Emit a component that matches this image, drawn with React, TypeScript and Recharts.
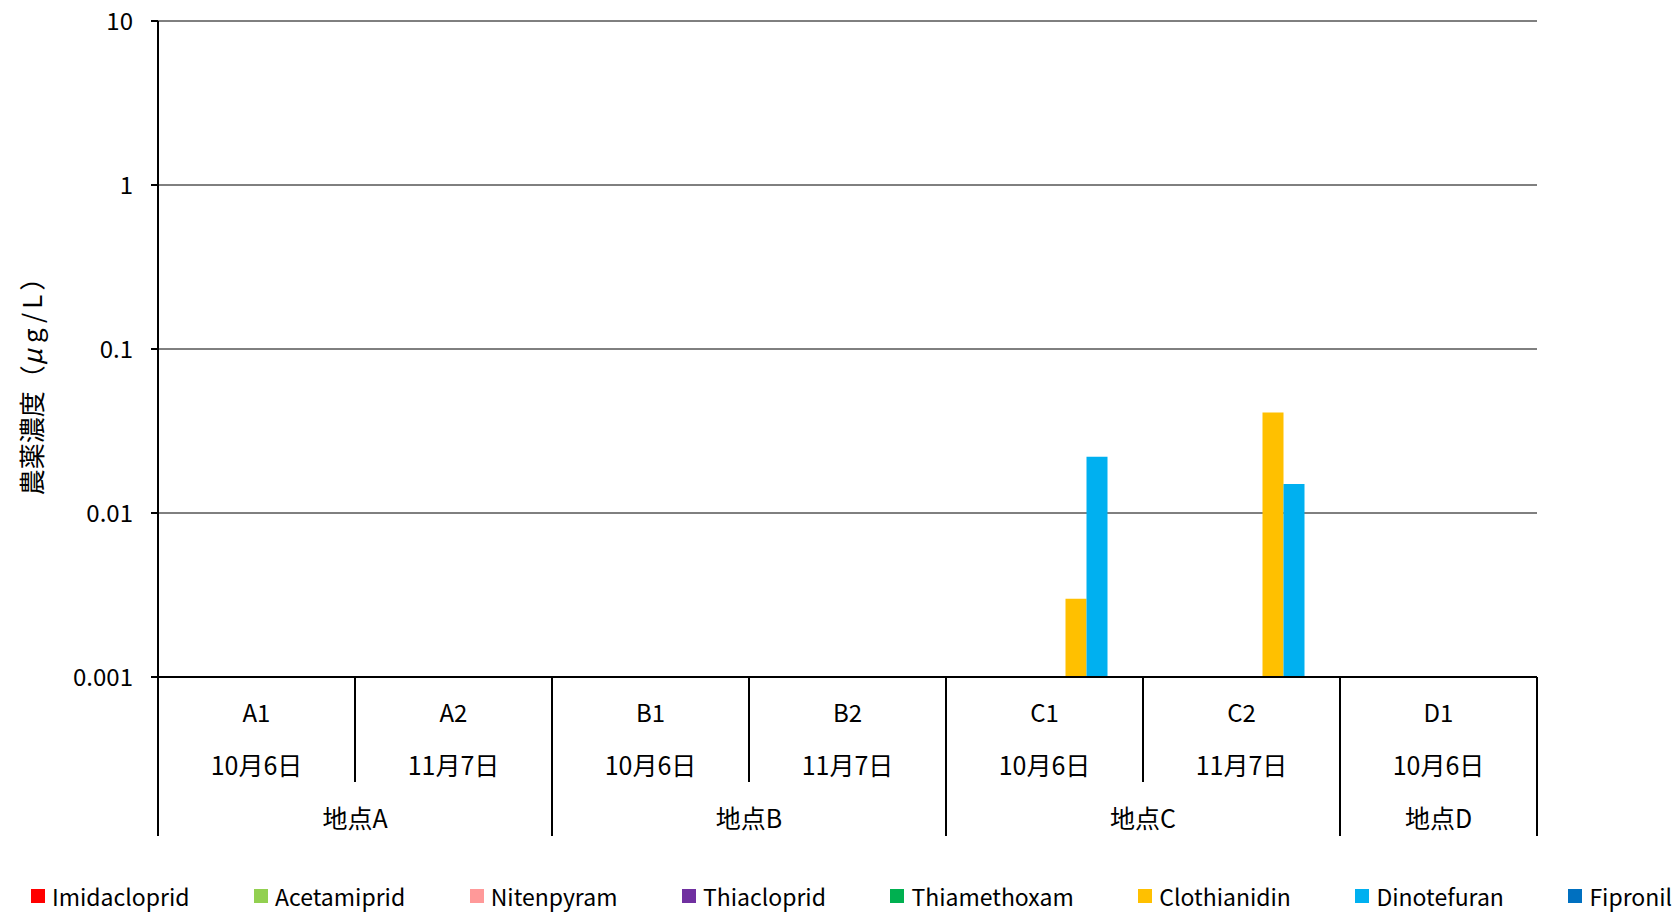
import React from 'react';
import { BarChart, Bar, XAxis, YAxis, CartesianGrid, Legend } from 'recharts';

// Sampling points
const samples = ['A1', 'A2', 'B1', 'B2', 'C1', 'C2', 'D1'];
const dates = ['10月6日', '11月7日', '10月6日', '11月7日', '10月6日', '11月7日', '10月6日'];
const sites = ['地点A', '地点A', '地点B', '地点B', '地点C', '地点C', '地点D'];

// Pesticide concentrations (µg/L); null = not detected
const imidacloprid = [null, null, null, null, null, null, null];
const acetamiprid = [null, null, null, null, null, null, null];
const nitenpyram = [null, null, null, null, null, null, null];
const thiacloprid = [null, null, null, null, null, null, null];
const thiamethoxam = [null, null, null, null, null, null, null];
const clothianidin = [null, null, null, null, 0.003, 0.041, null];
const dinotefuran = [null, null, null, null, 0.022, 0.015, null];
const fipronil = [null, null, null, null, null, null, null];

const yTicks = [0.001, 0.01, 0.1, 1, 10];

const series = [
  { key: 'Imidacloprid', values: imidacloprid, color: '#FF0000' },
  { key: 'Acetamiprid', values: acetamiprid, color: '#92D050' },
  { key: 'Nitenpyram', values: nitenpyram, color: '#FF9999' },
  { key: 'Thiacloprid', values: thiacloprid, color: '#7030A0' },
  { key: 'Thiamethoxam', values: thiamethoxam, color: '#00B050' },
  { key: 'Clothianidin', values: clothianidin, color: '#FFC000' },
  { key: 'Dinotefuran', values: dinotefuran, color: '#00B0F0' },
  { key: 'Fipronil', values: fipronil, color: '#0070C0' },
];

const data = samples.map((s, i) => {
  const row: Record<string, any> = { idx: i, sample: s };
  series.forEach((sr) => {
    row[sr.key] = sr.values[i];
  });
  return row;
});

const FONT = "'Noto Sans CJK JP', 'Noto Sans', sans-serif";
const W = 1677;
const H = 912;
const MARGIN = { top: 21, right: 140, bottom: 75, left: 0 };
const Y_AXIS_W = 158;
const PLOT_W = W - MARGIN.left - MARGIN.right - Y_AXIS_W;
const BAND = PLOT_W / samples.length;

const CategoryTick = (props: any) => {
  const { x, y, index } = props;
  const half = BAND / 2;
  const isGroupEnd = index === samples.length - 1 || sites[index + 1] !== sites[index];
  const isGroupStart = index === 0 || sites[index - 1] !== sites[index];
  let groupCount = 0;
  if (isGroupStart) {
    for (let j = index; j < samples.length && sites[j] === sites[index]; j++) groupCount++;
  }
  return (
    <g>
      <text x={x} y={y + 34} textAnchor="middle" dominantBaseline="central" fontSize={24} fill="#000" fontFamily={FONT}>
        {samples[index]}
      </text>
      <text x={x} y={y + 87} textAnchor="middle" dominantBaseline="central" fontSize={25} fill="#000" fontFamily={FONT}>
        {dates[index]}
      </text>
      {index === 0 && <line x1={x - half} x2={x - half} y1={y} y2={y + 159} stroke="#000" strokeWidth={2} />}
      <line x1={x + half} x2={x + half} y1={y} y2={y + (isGroupEnd ? 159 : 105)} stroke="#000" strokeWidth={2} />
      {isGroupStart && (
        <text
          x={x - half + (groupCount * BAND) / 2}
          y={y + 140}
          textAnchor="middle"
          dominantBaseline="central"
          fontSize={25}
          fill="#000"
          fontFamily={FONT}
        >
          {sites[index]}
        </text>
      )}
    </g>
  );
};

const LegendContent = () => (
  <div
    style={{
      display: 'flex',
      alignItems: 'center',
      whiteSpace: 'nowrap',
      fontFamily: FONT,
      fontSize: 23,
      lineHeight: '24px',
      color: '#000',
    }}
  >
    {series.map((s) => (
      <div key={s.key} style={{ display: 'flex', alignItems: 'center', marginRight: 64.5 }}>
        <span style={{ display: 'inline-block', width: 14, height: 14, background: s.color, marginRight: 7 }} />
        <span>{s.key}</span>
      </div>
    ))}
  </div>
);

const YLabel = (props: any) => {
  const { viewBox } = props;
  const cx = 30;
  const cy = viewBox.y + viewBox.height / 2 + 31;
  return (
    <text
      x={cx}
      y={cy}
      transform={`rotate(-90, ${cx}, ${cy})`}
      textAnchor="middle"
      dominantBaseline="central"
      fontSize={26}
      fill="#000"
      fontFamily={FONT}
    >
      農薬濃度（
      <tspan fontStyle="italic" letterSpacing={6}>
        μ
      </tspan>
      <tspan letterSpacing={4}>g/L</tspan>）
    </text>
  );
};

export default function App() {
  return (
    <div style={{ position: 'absolute', left: 0, top: 0, width: W, height: H, background: '#fff', overflow: 'hidden' }}>
      <BarChart width={W} height={H} data={data} margin={MARGIN} barCategoryGap={14.5} barGap={0}>
        <CartesianGrid horizontal vertical={false} stroke="#000" strokeWidth={1} />
        <XAxis
          dataKey="idx"
          type="category"
          height={160}
          tickLine={false}
          tickSize={0}
          tickMargin={0}
          axisLine={{ stroke: '#000', strokeWidth: 2 }}
          tick={<CategoryTick />}
          interval={0}
        />
        <YAxis
          scale="log"
          domain={[0.001, 10]}
          ticks={yTicks}
          allowDataOverflow
          width={Y_AXIS_W}
          axisLine={{ stroke: '#000', strokeWidth: 2 }}
          tickLine={{ stroke: '#000', strokeWidth: 2 }}
          tickSize={7}
          tickMargin={18}
          tick={{ fontSize: 24, fill: '#000', fontFamily: FONT }}
          tickFormatter={(v: number) => String(v)}
          label={<YLabel />}
        />
        <Legend
          verticalAlign="middle"
          align="center"
          layout="horizontal"
          content={<LegendContent />}
          wrapperStyle={{ position: 'absolute', left: 31, top: 884, width: 'auto' }}
        />
        {series.map((s) => (
          <Bar key={s.key} dataKey={s.key} fill={s.color} isAnimationActive={false} />
        ))}
      </BarChart>
    </div>
  );
}
